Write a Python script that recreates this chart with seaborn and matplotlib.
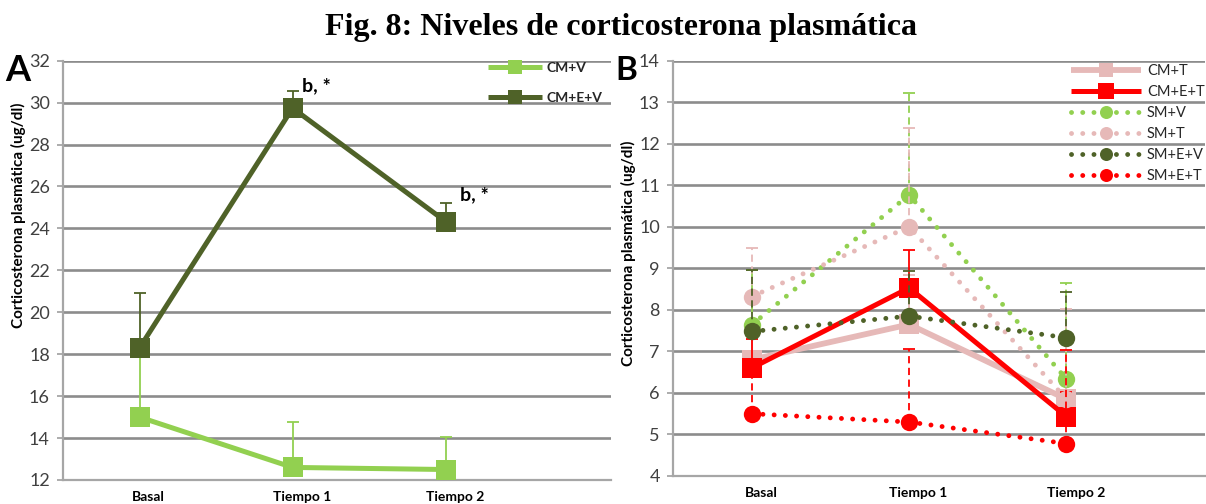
import numpy as np
import pandas as pd
import matplotlib
matplotlib.use("Agg")
import matplotlib.pyplot as plt
import seaborn as sns

# ---- data -------------------------------------------------------------
tiempos = ["Basal", "Tiempo 1", "Tiempo 2"]

# Panel A (mean and upper error, ug/dl)
cm_v = [15.0, 12.6, 12.5]
cm_v_err = [3.0, 2.15, 1.55]
cm_e_v = [18.3, 29.74, 24.33]
cm_e_v_err = [2.6, 0.8, 0.87]

# Panel B
cm_t = [6.8, 7.65, 5.85]
cm_t_err = [0.5, 1.2, 0.5]
cm_e_t = [6.6, 8.53, 5.43]
cm_e_t_err = [0.7, 0.9, 0.6]
sm_v = [7.64, 10.77, 6.33]
sm_v_err = [1.33, 2.46, 2.31]
sm_t = [8.32, 10.0, 5.85]
sm_t_err = [1.16, 2.37, 2.16]
sm_e_v = [7.48, 7.85, 7.33]
sm_e_v_err = [1.47, 1.08, 1.09]
sm_e_t = [5.5, 5.3, 4.78]
sm_e_t_err = [1.2, 1.77, 2.25]

anotacion = "b, *"

# ---- style ------------------------------------------------------------
sns.set_theme(style="white")
plt.rcParams["font.family"] = ["Lato", "DejaVu Sans"]

VERDE_CLARO = "#92D050"
VERDE_OSCURO = "#4F6228"
ROSA = "#E6B9B8"
ROJO = "#FF0000"
GRID = "#8C8C8C"
SPINE = "#A6A6A6"
DOTTED = (0, (0.01, 2.3))

fig = plt.figure(figsize=(12.06, 5.04), dpi=100)
axA = fig.add_axes([63 / 1206, 24 / 504, 548 / 1206, 419.3 / 504])
axB = fig.add_axes([673 / 1206, 28 / 504, 532 / 1206, 415.3 / 504])


def frame(name, values, errors):
    return pd.DataFrame({"tiempo": tiempos, "pos": range(len(tiempos)),
                         "valor": values, "error": errors, "grupo": name})


def draw_series(ax, df, color, marker, ms, lw, dotted, z):
    kw = dict(linestyle=DOTTED, dash_capstyle="round") if dotted else dict(solid_capstyle="butt")
    eb = ax.errorbar(df["pos"], df["valor"], yerr=[np.zeros(len(df)), df["error"]],
                     fmt="none", ecolor=color, elinewidth=1.3, capsize=4.5,
                     capthick=1.3, zorder=z)
    if dotted:
        eb[2][0].set_linestyle((0, (4, 2.5)))
    sns.lineplot(data=df, x="pos", y="valor", ax=ax, color=color, marker=marker,
                 markersize=ms, markeredgecolor=color, markeredgewidth=0,
                 linewidth=lw, zorder=z + 0.5, legend=False, **kw)
    return ax.lines[-1]


def style_axes(ax, ylim, step, xright, label_x, label_y):
    ax.set_xlim(-0.5, xright)
    ax.set_ylim(*ylim)
    ax.set_yticks(np.arange(ylim[0], ylim[1] + step / 2, step))
    # category labels sit slightly right of their points
    ax.set_xticks(np.arange(len(tiempos)) + 0.06)
    ax.set_xticklabels(tiempos, fontsize=10, fontweight="bold", color="black")
    ax.tick_params(axis="x", length=0, pad=8)
    ax.tick_params(axis="y", length=4.5, width=1.3, color=SPINE, pad=5,
                   labelsize=13, labelcolor="#404040", left=True)
    ax.yaxis.grid(True, color=GRID, linewidth=1.9)
    ax.xaxis.grid(False)
    ax.set_axisbelow(True)
    for side in ("top", "right"):
        ax.spines[side].set_visible(False)
    for side in ("left", "bottom"):
        ax.spines[side].set_color(SPINE)
        ax.spines[side].set_linewidth(1.6)
        ax.spines[side].set_zorder(1.5)
    ax.set_xlabel("")
    ax.set_ylabel("Corticosterona plasmática (ug/dl)", fontsize=11,
                  fontweight="bold", color="black")
    ax.yaxis.set_label_coords(label_x, label_y)


# ---- panel A ----------------------------------------------------------
dA = [(frame("CM+V", cm_v, cm_v_err), VERDE_CLARO),
      (frame("CM+E+V", cm_e_v, cm_e_v_err), VERDE_OSCURO)]
handlesA = [draw_series(axA, df, c, "s", 14.5, 3.6, False, 3 + i)
            for i, (df, c) in enumerate(dA)]
style_axes(axA, (12, 32), 2, 3.08, -0.067, 0.632)

for k, dx, dy in [(1, 7, 10), (2, 10, 13)]:
    axA.annotate(anotacion, (k, cm_e_v[k]), xytext=(dx, dy), textcoords="offset points",
                 fontsize=14, fontweight="bold", color="black", ha="left", va="bottom",
                 zorder=10)

axA.legend(handles=handlesA, labels=[d[0]["grupo"].iloc[0] for d in dA],
           loc="upper left", bbox_to_anchor=(488 / 1206, 1 - 62 / 504),
           bbox_transform=fig.transFigure, frameon=False, borderpad=0,
           borderaxespad=0, handlelength=3.9, handletextpad=0.3,
           labelspacing=1.3, markerscale=0.65, prop={"weight": "bold", "size": 10})

# ---- panel B ----------------------------------------------------------
dB = [(frame("CM+T", cm_t, cm_t_err), ROSA, "s", 14, 4.2, False),
      (frame("CM+E+T", cm_e_t, cm_e_t_err), ROJO, "s", 14.5, 3.6, False),
      (frame("SM+V", sm_v, sm_v_err), VERDE_CLARO, "o", 12.5, 3.5, True),
      (frame("SM+T", sm_t, sm_t_err), ROSA, "o", 12.5, 3.5, True),
      (frame("SM+E+V", sm_e_v, sm_e_v_err), VERDE_OSCURO, "o", 12.5, 3.5, True),
      (frame("SM+E+T", sm_e_t, sm_e_t_err), ROJO, "o", 12.5, 3.5, True)]
handlesB = [draw_series(axB, df, c, m, ms, lw, dot, 3 + i)
            for i, (df, c, m, ms, lw, dot) in enumerate(dB)]
style_axes(axB, (4, 14), 1, 2.88, -0.07, 0.537)

axB.legend(handles=handlesB, labels=[d[0]["grupo"].iloc[0] for d in dB],
           loc="upper left", bbox_to_anchor=(1071 / 1206, 1 - 64 / 504),
           bbox_transform=fig.transFigure, frameon=False, borderpad=0,
           borderaxespad=0, handlelength=4.8, handletextpad=0.4,
           labelspacing=0.48, markerscale=0.75, prop={"size": 10.5})

# ---- titles -----------------------------------------------------------
fig.text(621 / 1206, 1 - 28 / 504, "Fig. 8: Niveles de corticosterona plasmática",
         family="Liberation Serif", fontweight="bold", fontsize=23,
         ha="center", va="center", color="black")
fig.text(5 / 1206, 1 - 81 / 504, "A", fontsize=26, fontweight="bold",
         ha="left", va="baseline", color="black")
fig.text(615 / 1206, 1 - 80 / 504, "B", fontsize=24, fontweight="bold",
         ha="left", va="baseline", color="black")

fig.savefig("out.png", dpi=100)
